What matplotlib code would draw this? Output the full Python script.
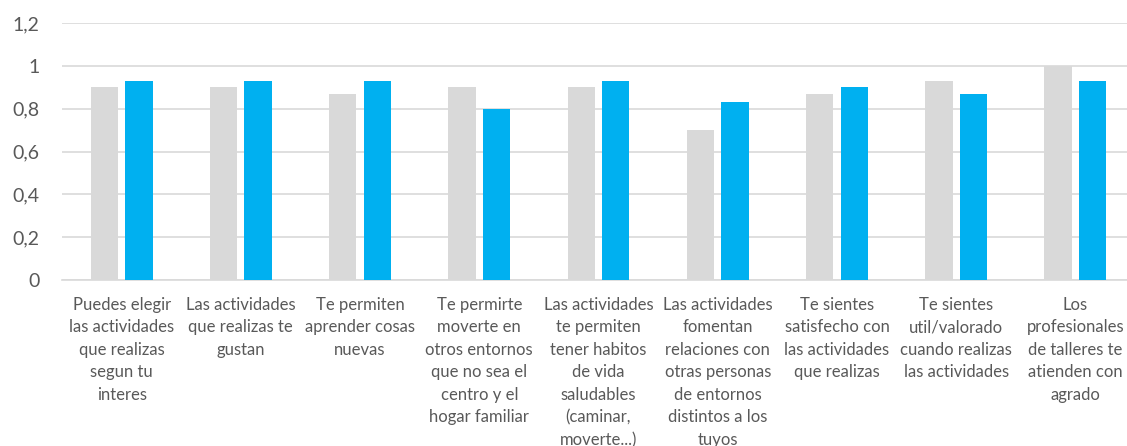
import matplotlib.pyplot as plt
import numpy as np

# data
categorias = [
    "Puedes elegir\nlas actividades\nque realizas\nsegun tu\ninteres",
    "Las actividades\nque realizas te\ngustan",
    "Te permiten\naprender cosas\nnuevas",
    "Te permirte\nmoverte en\notros entornos\nque no sea el\ncentro y el\nhogar familiar",
    "Las actividades\nte permiten\ntener habitos\nde vida\nsaludables\n(caminar,\nmoverte...)",
    "Las actividades\nfomentan\nrelaciones con\notras personas\nde entornos\ndistintos a los\ntuyos",
    "Te sientes\nsatisfecho con\nlas actividades\nque realizas",
    "Te sientes\nutil/valorado\ncuando realizas\nlas actividades",
    "Los\nprofesionales\nde talleres te\natienden con\nagrado",
]
serie_gris = [0.9, 0.9, 0.87, 0.9, 0.9, 0.7, 0.87, 0.93, 1.0]
serie_azul = [0.93, 0.93, 0.93, 0.8, 0.93, 0.83, 0.9, 0.87, 0.93]
ticks_y = [0, 0.2, 0.4, 0.6, 0.8, 1.0, 1.2]
etiquetas_y = ["0", "0,2", "0,4", "0,6", "0,8", "1", "1,2"]

plt.rcParams['font.family'] = ['Lato', 'DejaVu Sans']

fig = plt.figure(figsize=(11.27, 4.46), dpi=100)
ax = fig.add_axes([62/1127, 166/446, 1073/1127, 257/446])

x = np.arange(len(categorias))
ancho = 0.23
ax.bar(x - 0.145, serie_gris, ancho, color="#D9D9D9", zorder=3)
ax.bar(x + 0.145, serie_azul, ancho, color="#00B0F0", zorder=3)

ax.set_xlim(-0.5, len(categorias) - 0.5)
ax.set_ylim(0, 1.2)
ax.set_yticks(ticks_y)
ax.set_yticklabels(etiquetas_y, fontsize=14, color="#595959")
ax.set_xticks(x)
ax.set_xticklabels(categorias, fontsize=12, color="#595959", linespacing=1.5,
                   va="top")
ax.tick_params(axis="y", length=0, pad=16)
ax.tick_params(axis="x", length=0, pad=12)

ax.grid(axis="y", color="#D9D9D9", linewidth=1.2, zorder=0)
for s in ["top", "right", "left"]:
    ax.spines[s].set_visible(False)
ax.spines["bottom"].set_color("#D9D9D9")
ax.spines["bottom"].set_linewidth(1.2)

fig.savefig("out.png", dpi=100)
